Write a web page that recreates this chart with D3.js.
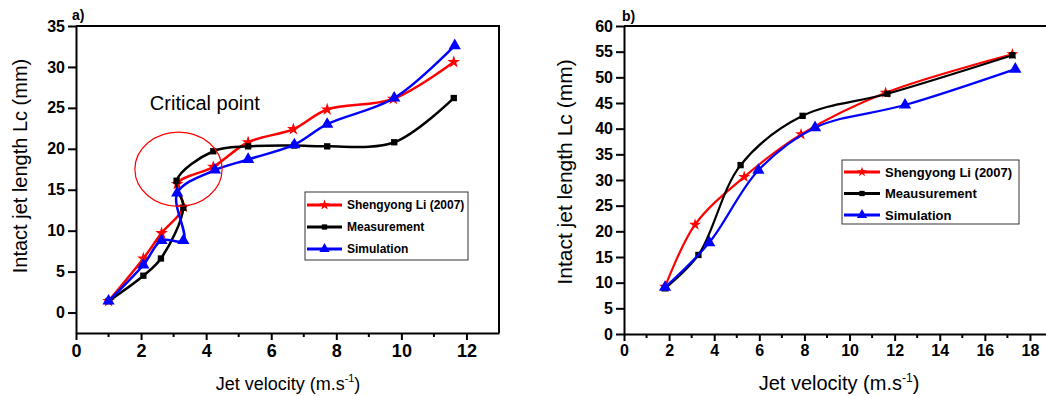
<!DOCTYPE html>
<meta charset="utf-8">
<script src="https://d3js.org/d3.v7.min.js"></script>
<style>
  body { margin: 0; background: #fff; }
  text { font-family: "Liberation Sans", Arial, sans-serif; }
</style>
<div id="my_dataviz"></div>

<script>

// ---- data, panel a) ----
var seriesNames = ["Shengyong Li (2007)", "Measurement", "Simulation"];
var seriesNamesB = ["Shengyong Li (2007)", "Meausurement", "Simulation"];

var liA_x   = [1.0, 2.07, 2.63, 3.30, 3.11, 4.22, 5.29, 6.68, 7.72, 9.75, 11.61];
var liA_y   = [1.4, 6.6, 9.7, 12.9, 15.7, 17.8, 20.8, 22.4, 24.8, 26.1, 30.6];
var measA_x = [1.0, 2.07, 2.61, 3.30, 3.09, 4.22, 5.29, 6.71, 7.72, 9.78, 11.61];
var measA_y = [1.4, 4.5, 6.6, 12.8, 16.1, 19.7, 20.3, 20.4, 20.3, 20.8, 26.2];
var simA_x  = [1.0, 2.07, 2.63, 3.30, 3.11, 4.27, 5.29, 6.71, 7.72, 9.78, 11.64];
var simA_y  = [1.4, 5.8, 8.8, 8.8, 14.6, 17.4, 18.7, 20.5, 23.0, 26.2, 32.6];

var xTicksA = [0, 2, 4, 6, 8, 10, 12];
var yTicksA = [0, 5, 10, 15, 20, 25, 30, 35];

// ---- data, panel b) ----
var liB_x   = [1.82, 3.15, 5.33, 7.85, 11.6, 17.22];
var liB_y   = [9.2, 21.3, 30.6, 38.9, 47.0, 54.5];
var measB_x = [1.82, 3.30, 5.17, 7.92, 11.68, 17.22];
var measB_y = [8.9, 15.4, 32.9, 42.5, 46.8, 54.3];
var simB_x  = [1.82, 3.78, 5.96, 8.47, 12.46, 17.35];
var simB_y  = [9.1, 17.8, 31.9, 40.2, 44.6, 51.6];

var xTicksB = [0, 2, 4, 6, 8, 10, 12, 14, 16, 18];
var yTicksB = [0, 5, 10, 15, 20, 25, 30, 35, 40, 45, 50, 55, 60];

var colors = ["#ff0000", "#000000", "#0000ff"];
var symbols = [d3.symbolStar, d3.symbolSquare, d3.symbolTriangle];

function zip(xs, ys) { return xs.map(function(v, i) { return [v, ys[i]]; }); }

var svg = d3.select("#my_dataviz")
  .append("svg")
    .attr("width", 1046)
    .attr("height", 396);

// draws one panel
function panel(opt) {
  var x = d3.scaleLinear().domain(opt.xDomain).range(opt.xRange);
  var y = d3.scaleLinear().domain(opt.yDomain).range(opt.yRange);
  var g = svg.append("g");

  var left = opt.xRange[0], right = opt.xRange[1],
      top = opt.yRange[1], bottom = opt.yRange[0];

  // frame (top + right)
  g.append("path")
    .attr("d", "M" + left + "," + top + "H" + right + "V" + bottom)
    .attr("fill", "none").attr("stroke", "#000").attr("stroke-width", 2);

  // minor x ticks
  var minors = d3.range(Math.ceil(opt.xDomain[0]) + 1, opt.xDomain[1], 2);
  g.selectAll(".minor").data(minors).enter().append("line")
    .attr("x1", function(d) { return x(d); }).attr("x2", function(d) { return x(d); })
    .attr("y1", bottom).attr("y2", bottom + 4)
    .attr("stroke", "#000").attr("stroke-width", 2);

  // x axis
  var gx = g.append("g")
    .attr("transform", "translate(0," + bottom + ")")
    .call(d3.axisBottom(x).tickValues(opt.xTicks).tickSize(7).tickSizeOuter(0).tickPadding(4));
  gx.select(".domain").attr("stroke-width", 2);
  gx.selectAll(".tick line").attr("stroke-width", 2);
  gx.selectAll(".tick text")
    .style("font-size", opt.xTickFont + "px").style("font-weight", "bold").attr("fill", "#000");

  // y axis
  var gy = g.append("g")
    .attr("transform", "translate(" + left + ",0)")
    .call(d3.axisLeft(y).tickValues(opt.yTicks).tickSize(8).tickSizeOuter(0).tickPadding(3));
  gy.select(".domain").attr("stroke-width", 2);
  gy.selectAll(".tick line").attr("stroke-width", 2);
  gy.selectAll(".tick text")
    .style("font-size", opt.yTickFont + "px").style("font-weight", "bold").attr("fill", "#000");

  // axis titles
  var xt = g.append("text")
    .attr("x", opt.xTitlePos[0]).attr("y", opt.xTitlePos[1])
    .attr("text-anchor", "middle")
    .style("font-size", opt.titleFont + "px");
  xt.append("tspan").text("Jet velocity (m.s");
  xt.append("tspan").text("-1").attr("dy", -8).style("font-size", (opt.titleFont * 0.6) + "px");
  xt.append("tspan").text(")").attr("dy", 8);

  g.append("text")
    .attr("transform", "translate(" + opt.yTitlePos[0] + "," + opt.yTitlePos[1] + ") rotate(-90)")
    .attr("text-anchor", "middle")
    .style("font-size", opt.yTitleFont + "px")
    .text("Intact jet length Lc (mm)");

  // panel label
  g.append("text")
    .attr("x", opt.labelPos[0]).attr("y", opt.labelPos[1])
    .style("font-size", "14px").style("font-weight", "bold")
    .text(opt.label);

  // series
  var line = d3.line()
    .x(function(d) { return x(d[0]); })
    .y(function(d) { return y(d[1]); })
    .curve(d3.curveCatmullRom.alpha(0.5));

  opt.series.forEach(function(s, i) {
    g.append("path")
      .datum(s)
      .attr("d", line)
      .attr("fill", "none")
      .attr("stroke", colors[i])
      .attr("stroke-width", opt.lineWidth);

    g.selectAll(".pt" + i)
      .data(s)
      .enter()
      .append("path")
        .attr("transform", function(d) { return "translate(" + x(d[0]) + "," + y(d[1]) + ")"; })
        .attr("d", d3.symbol().type(symbols[i]).size(opt.markerSize[i]))
        .attr("fill", colors[i]);
  });

  // legend
  var lg = g.append("g");
  var L = opt.legend;
  lg.append("rect")
    .attr("x", L.x).attr("y", L.y).attr("width", L.w).attr("height", L.h)
    .attr("fill", "#fff").attr("stroke", "#333").attr("stroke-width", 1);
  opt.names.forEach(function(name, i) {
    var ry = L.y + L.first + i * L.step;
    lg.append("line")
      .attr("x1", L.x + 2).attr("x2", L.x + L.lineLen)
      .attr("y1", ry).attr("y2", ry)
      .attr("stroke", colors[i]).attr("stroke-width", 3);
    lg.append("path")
      .attr("transform", "translate(" + (L.x + (2 + L.lineLen) / 2) + "," + ry + ")")
      .attr("d", d3.symbol().type(symbols[i]).size(opt.markerSize[i] * 0.7))
      .attr("fill", colors[i]);
    lg.append("text")
      .attr("x", L.x + L.lineLen + 5).attr("y", ry)
      .attr("dy", "0.35em")
      .style("font-size", L.font + "px").style("font-weight", "bold")
      .text(name);
  });

  return { x: x, y: y, g: g };
}

var a = panel({
  xDomain: [0, 13], xRange: [76, 499],
  yDomain: [-2.5, 35], yRange: [333, 26],
  xTicks: xTicksA, yTicks: yTicksA,
  xTickFont: 18, yTickFont: 16,
  titleFont: 18, yTitleFont: 20,
  xTitlePos: [288, 390], yTitlePos: [27, 166],
  label: "a)", labelPos: [72, 20],
  series: [zip(liA_x, liA_y), zip(measA_x, measA_y), zip(simA_x, simA_y)],
  names: seriesNames,
  lineWidth: 2.5,
  markerSize: [50, 40, 65],
  legend: { x: 305, y: 192, w: 163, h: 68, first: 13, step: 22, lineLen: 37, font: 12 }
});

// critical point annotation
a.g.append("ellipse")
  .attr("cx", a.x(3.15)).attr("cy", a.y(17.5))
  .attr("rx", a.x(3.15 + 1.34) - a.x(3.15))
  .attr("ry", a.y(17.5) - a.y(17.5 + 4.54))
  .attr("fill", "none").attr("stroke", "#ff0000").attr("stroke-width", 1.2);
a.g.append("text")
  .attr("x", a.x(2.27)).attr("y", a.y(24.8))
  .style("font-size", "20px")
  .text("Critical point");

panel({
  xDomain: [0, 18.8], xRange: [624, 1048],
  yDomain: [0, 60], yRange: [334, 26],
  xTicks: xTicksB, yTicks: yTicksB,
  xTickFont: 16, yTickFont: 16,
  titleFont: 20, yTitleFont: 21,
  xTitlePos: [839, 390], yTitlePos: [572, 172],
  label: "b)", labelPos: [622, 21],
  series: [zip(liB_x, liB_y), zip(measB_x, measB_y), zip(simB_x, simB_y)],
  names: seriesNamesB,
  lineWidth: 2.2,
  markerSize: [45, 40, 65],
  legend: { x: 842, y: 160, w: 177, h: 64, first: 12, step: 21.5, lineLen: 38, font: 13 }
});

</script>
